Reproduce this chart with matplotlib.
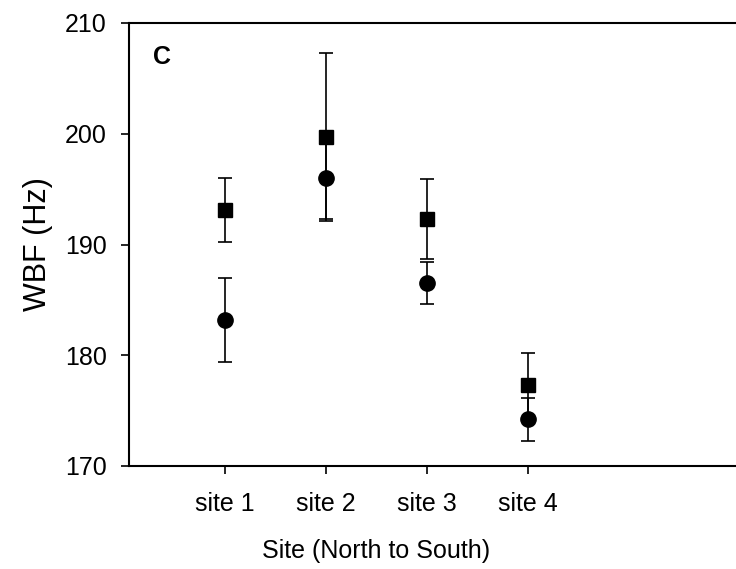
import numpy as np
import matplotlib
matplotlib.use('Agg')
import matplotlib.pyplot as plt

plt.rcParams['font.family'] = ['Liberation Sans', 'DejaVu Sans']

sites = ['site 1', 'site 2', 'site 3', 'site 4']
square_mean = [193.1, 199.7, 192.3, 177.3]
square_err = [2.9, 7.6, 3.6, 2.9]
circle_mean = [183.2, 196.0, 186.5, 174.2]
circle_err = [3.8, 3.7, 1.9, 1.9]

x = np.arange(1, len(sites) + 1)

fig = plt.figure(figsize=(7.36, 5.69), dpi=100)
# axes extend past the right edge, as in the original crop
ax = fig.add_axes([129 / 736, 103 / 569, 621 / 736, 443 / 569])

ax.errorbar(x, circle_mean, yerr=circle_err, fmt='o', color='black',
            markersize=11, capsize=5, elinewidth=1.2, capthick=1.2, zorder=3)
ax.errorbar(x, square_mean, yerr=square_err, fmt='s', color='black',
            markersize=10, capsize=5, elinewidth=1.2, capthick=1.2, zorder=3)

ax.set_xlim(0.05, 6.2)
ax.set_ylim(170, 210)
ax.set_yticks([170, 180, 190, 200, 210])
ax.set_xticks(x)
ax.set_xticklabels(sites)

for s in ax.spines.values():
    s.set_linewidth(1.5)
ax.tick_params(axis='both', direction='out', length=6, width=1.2,
               labelsize=18)
ax.tick_params(axis='y', pad=10)
ax.tick_params(axis='x', pad=13)

ax.set_xlabel('Site (North to South)', fontsize=18)
ax.xaxis.set_label_coords(0.398, -0.165)
ax.set_ylabel('WBF (Hz)', fontsize=22)
ax.yaxis.set_label_coords(-0.123, 0.5)

ax.text(0.053, 0.923, 'C', transform=ax.transAxes, fontsize=18,
        fontweight='bold', ha='center', va='center')

fig.savefig('out.png', dpi=100)
